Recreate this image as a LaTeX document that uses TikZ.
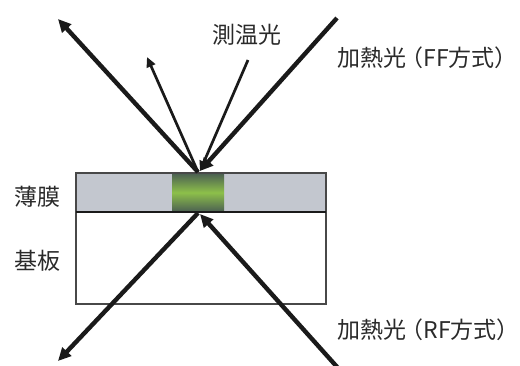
\documentclass[tikz,border=0pt]{standalone}
\usepackage{fontspec}
\setmainfont{Noto Sans CJK JP}
\usetikzlibrary{arrows.meta}
\definecolor{filmgray}{HTML}{C3C7CF}
\definecolor{linedark}{HTML}{1A1A1A}
\definecolor{txt}{HTML}{2A2A2A}
\definecolor{gdark}{HTML}{4A5E52}
\definecolor{gbright}{HTML}{8DC04A}
\tikzset{
  thickray/.style={draw=linedark, line width=4.4pt, -{Triangle[length=13pt,width=12pt]}},
  thinray/.style={draw=linedark, line width=2.7pt, -{Triangle[length=10pt,width=9pt]}},
  lbl/.style={text=txt, font=\fontsize{23pt}{26pt}\selectfont, inner sep=0pt},
}
\begin{document}
\begin{tikzpicture}[x=1pt,y=-1pt]
\useasboundingbox (0,0) rectangle (520,365);
% film and substrate
\fill[filmgray] (76,173) rectangle (326,212);
\shade[top color=gdark, bottom color=gdark, middle color=gbright] (172,173) rectangle (224,212);
\draw[draw=linedark!80, line width=1.2pt] (76,173) rectangle (326,304);
\draw[draw=linedark, line width=1.6pt] (76,212) -- (326,212);
% coordinates
\coordinate (P) at (198,172);
\coordinate (Pr) at (200,171);
\coordinate (Q) at (198,213);
\coordinate (Qr) at (200,214);
\coordinate (A1) at (58,19);
\coordinate (A2) at (147,57);
\coordinate (B1) at (248,60);
\coordinate (B2) at (337,18);
\coordinate (C1) at (58,361);
\coordinate (C2) at (338,368);
% rays
\draw[thickray] (P) -- (A1);
\draw[thinray] (P) -- (A2);
\draw[thinray] (B1) -- (Pr);
\draw[thickray] (B2) -- (Pr);
\draw[thickray] (Q) -- (C1);
\draw[thickray] (C2) -- (Qr);
% labels
\node[lbl] (sokuon) at (247,35) {測温光};
\node[lbl, anchor=west] (ff) at (337,58) {加熱光\kern-0.25em（FF方式）\kern-0.45em};
\node[lbl, anchor=west] (rf) at (337,330) {加熱光\kern-0.25em（RF方式）\kern-0.45em};
\node[lbl] (film) at (37,197) {薄膜};
\node[lbl] (sub) at (37,261) {基板};
\end{tikzpicture}
\end{document}
